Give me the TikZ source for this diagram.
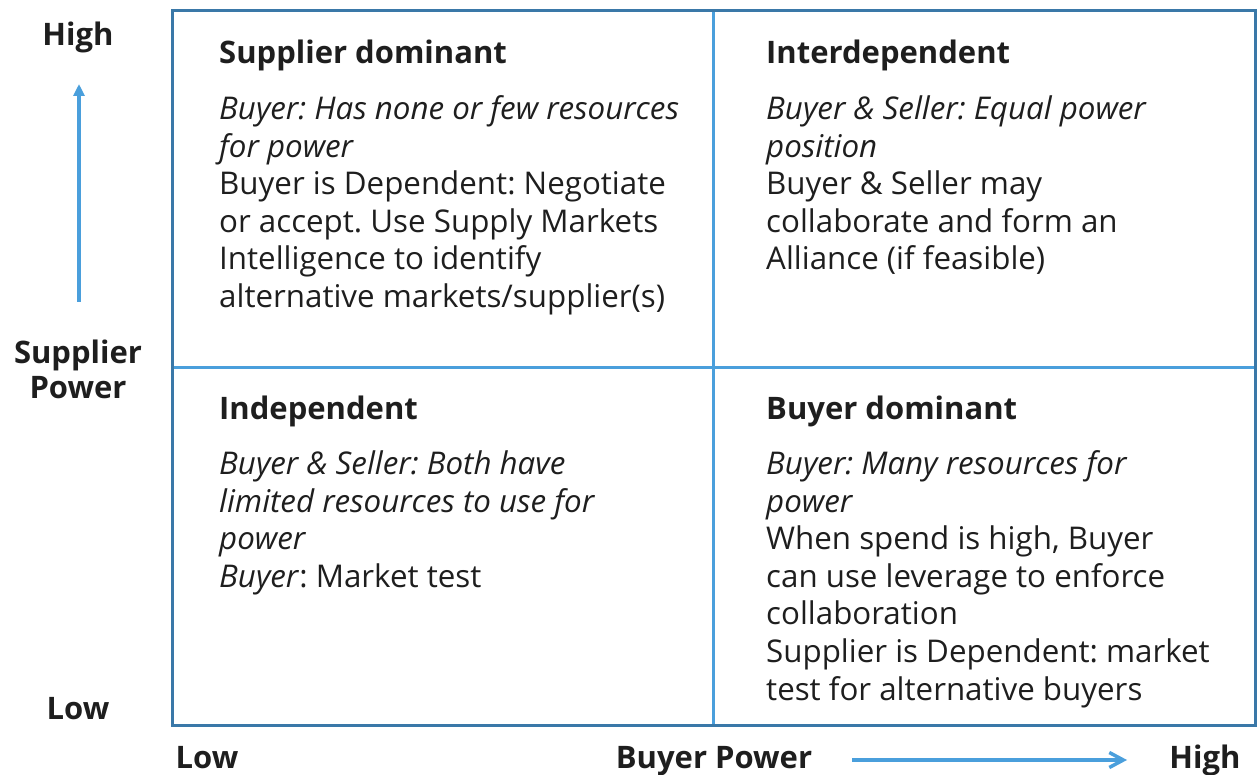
\documentclass[tikz,border=0pt]{standalone}
\usepackage{fontspec}
\setmainfont{Open Sans}
\usetikzlibrary{arrows.meta}
\definecolor{frameblue}{HTML}{3A78A8}
\definecolor{lineblue}{HTML}{4A9FDC}
\definecolor{ink}{HTML}{1E1E1E}
\tikzset{
  quadhead/.style={anchor=base west, inner sep=0pt, text=ink, font=\fontsize{31}{37.6}\selectfont\bfseries},
  quadbody/.style={anchor=base west, inner sep=0pt, text=ink, font=\fontsize{31.3}{37.6}\selectfont\frenchspacing},
  axislabel/.style={inner sep=0pt, text=ink, align=center, font=\fontsize{31}{35}\selectfont\bfseries},
  axisarrow/.style={lineblue, line width=3.5pt},
}
\newcommand{\bodytext}[1]{\parbox[t]{520pt}{\raggedright #1}}
\begin{document}
\begin{tikzpicture}[x=1pt,y=-1pt]
  \useasboundingbox (0,0) rectangle (1259,775);
  % quadrant grid
  \draw[lineblue, line width=3pt] (713,11) -- (713,725);
  \draw[lineblue, line width=3pt] (172,368) -- (1255,368);
  \draw[frameblue, line width=3pt] (172,11) rectangle (1255,725);

  % top left quadrant
  \node[quadhead] (sdh) at (219,63.5) {Supplier dominant};
  \node[quadbody] (sdb) at (219,119.5) {\bodytext{\itshape Buyer: Has none or few resources\\for power\\\upshape
    Buyer is Dependent: Negotiate\\or accept. Use Supply Markets\\Intelligence to identify\\alternative markets/supplier(s)}};

  % top right quadrant
  \node[quadhead] (idh) at (766,63.5) {Interdependent};
  \node[quadbody] (idb) at (766,119.5) {\bodytext{\itshape Buyer \& Seller: Equal power\\position\\\upshape
    Buyer \& Seller may\\collaborate and form an\\Alliance (if feasible)}};

  % bottom left quadrant
  \node[quadhead] (inh) at (219,419.5) {Independent};
  \node[quadbody] (inb) at (219,474.5) {\bodytext{\itshape Buyer \& Seller: Both have\\limited resources to use for\\power\\\upshape
    \textit{Buyer}: Market test}};

  % bottom right quadrant
  \node[quadhead] (bdh) at (766,419.5) {Buyer dominant};
  \node[quadbody] (bdb) at (766,474.5) {\bodytext{\itshape Buyer: Many resources for\\power\\\upshape
    When spend is high, Buyer\\can use leverage to enforce\\collaboration\\Supplier is Dependent: market\\test for alternative buyers}};

  % vertical axis
  \node[axislabel] (yhigh) at (78,37) {High};
  \node[axislabel] (ypow) at (78,369.5) {Supplier\\Power};
  \node[axislabel, anchor=base] (ylow) at (78,719) {Low};
  \coordinate (yarrtail) at (79,302);
  \coordinate (yarrtip) at (79,84);
  \draw[axisarrow, -{Triangle[width=11pt,length=12pt]}] (yarrtail) -- (yarrtip);

  % horizontal axis
  \node[axislabel, anchor=base] (xlow) at (207,768) {Low};
  \node[axislabel, anchor=base] (xpow) at (714,768) {Buyer Power};
  \node[axislabel, anchor=base] (xhigh) at (1205,768) {High};
  \coordinate (xarrtail) at (852,760);
  \coordinate (xarrtip) at (1127,760);
  \draw[axisarrow, -{Straight Barb[width=15pt,length=14pt]}] (xarrtail) -- (xarrtip);
\end{tikzpicture}
\end{document}
